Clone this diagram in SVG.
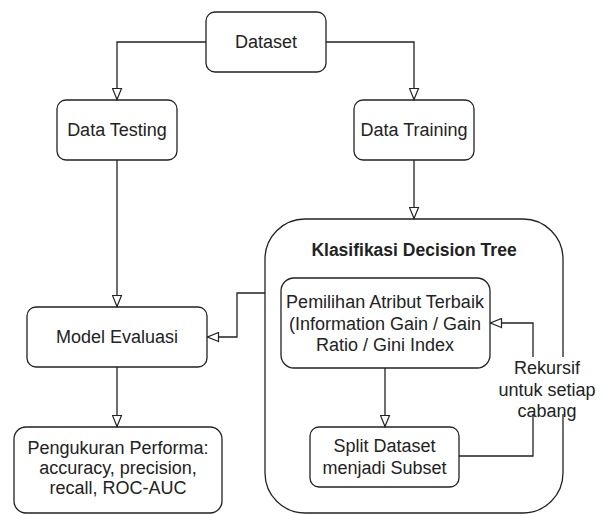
<svg xmlns="http://www.w3.org/2000/svg" width="603" height="514" viewBox="0 0 603 514">
<style>
.box{fill:#fff;stroke:#222;stroke-width:1.3}
.t{font-family:"Liberation Sans",Arial,sans-serif;font-size:18px;fill:#222;text-anchor:middle}
.b{font-weight:bold;font-size:17.5px}
.e{fill:none;stroke:#222;stroke-width:1.3}
</style>
<defs>
<marker id="arr" markerUnits="userSpaceOnUse" markerWidth="13" markerHeight="11" refX="11.5" refY="5" orient="auto" viewBox="-1 0 13 10">
<path d="M0,0.5 L11,5 L0,9.5 Z" fill="#fff" stroke="#222" stroke-width="1.2"/>
</marker>
</defs>
<rect width="603" height="514" fill="#fff"/>
<g id="container">
<rect class="box" x="265" y="219" width="298" height="294" rx="40"/>
<text class="t b" x="414" y="256">Klasifikasi Decision Tree</text>
</g>
<g id="dataset">
<rect class="box" x="206" y="12" width="120" height="60" rx="9"/>
<text class="t" x="266" y="48">Dataset</text>
</g>
<g id="data-testing">
<rect class="box" x="57" y="100" width="120" height="60" rx="9"/>
<text class="t" x="117" y="136">Data Testing</text>
</g>
<g id="data-training">
<rect class="box" x="354" y="100" width="120" height="60" rx="9"/>
<text class="t" x="414" y="136">Data Training</text>
</g>
<g id="model-evaluasi">
<rect class="box" x="27" y="307" width="180" height="60" rx="9"/>
<text class="t" x="117" y="343">Model Evaluasi</text>
</g>
<g id="pengukuran">
<rect class="box" x="14" y="427" width="208" height="86" rx="12"/>
<text class="t" x="118" y="454">Pengukuran Performa:</text>
<text class="t" x="118" y="474">accuracy, precision,</text>
<text class="t" x="118" y="494">recall, ROC-AUC</text>
</g>
<g id="pemilihan">
<rect class="box" x="281" y="278" width="209" height="90" rx="13"/>
<text class="t" x="385" y="308">Pemilihan Atribut Terbaik</text>
<text class="t" x="385" y="329.5">(Information Gain / Gain</text>
<text class="t" x="385" y="351">Ratio / Gini Index</text>
</g>
<g id="split">
<rect class="box" x="310" y="427" width="149" height="60" rx="9"/>
<text class="t" x="384.5" y="452">Split Dataset</text>
<text class="t" x="384.5" y="474">menjadi Subset</text>
</g>
<g id="connectors">
<path class="e" d="M206,42 H117 V100" marker-end="url(#arr)"/>
<path class="e" d="M326,42 H414 V100" marker-end="url(#arr)"/>
<path class="e" d="M117,160 V307" marker-end="url(#arr)"/>
<path class="e" d="M414,160 V219" marker-end="url(#arr)"/>
<path class="e" d="M265,293 H237 V337 H207" marker-end="url(#arr)"/>
<path class="e" d="M117,367 V427" marker-end="url(#arr)"/>
<path class="e" d="M385,368 V427" marker-end="url(#arr)"/>
<path class="e" d="M459,456 H533 V323 H490" marker-end="url(#arr)"/>
<g id="loop-label">
<rect x="497" y="357" width="101" height="57" fill="#fff"/>
<text class="t" x="547" y="374">Rekursif</text>
<text class="t" x="547" y="396">untuk setiap</text>
<text class="t" x="547" y="417">cabang</text>
</g>
</g>
</svg>
